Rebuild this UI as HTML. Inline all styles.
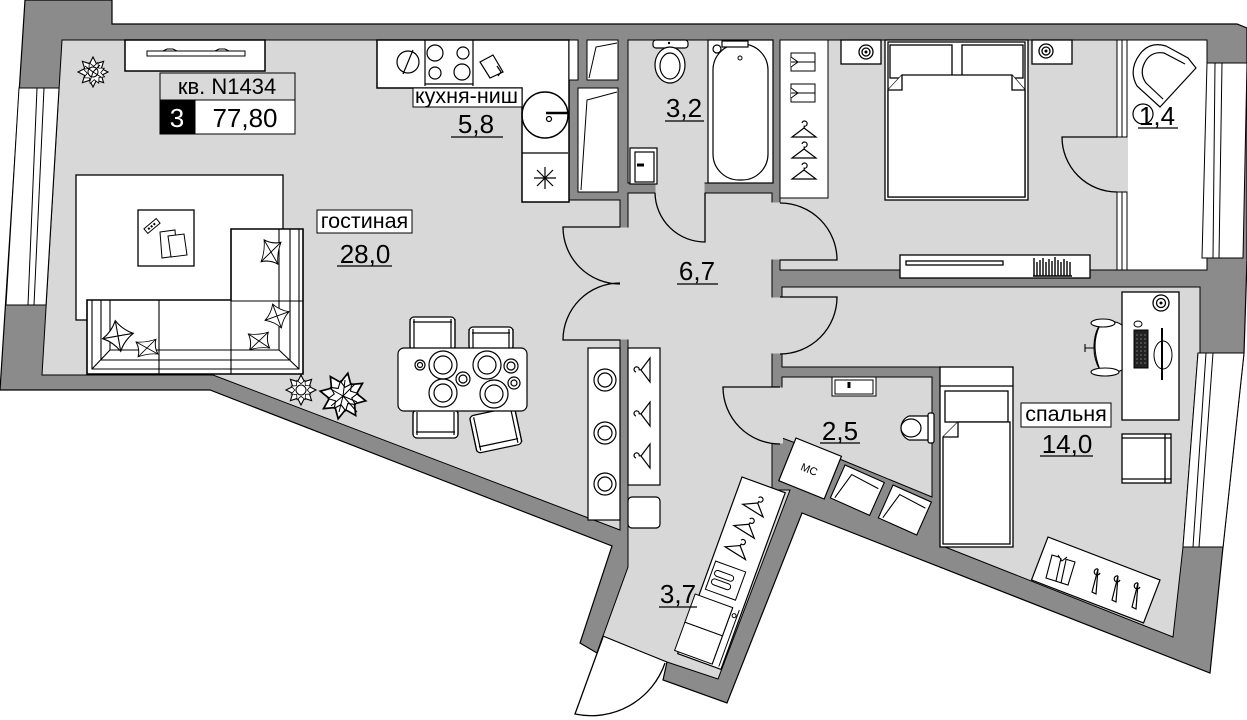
<!DOCTYPE html>
<html><head><meta charset="utf-8">
<style>
html,body{margin:0;padding:0;background:#fff;}
svg{display:block;}
text{font-family:"Liberation Sans","DejaVu Sans",sans-serif;}
</style></head><body>
<svg width="1247" height="720" viewBox="0 0 1247 720" xmlns="http://www.w3.org/2000/svg">
<defs>
  <g id="hg" fill="none" stroke="#000" stroke-width="1.2">
    <path d="M-2,-8 a2.6,2.6 0 1 1 2.2,3.2 v2"/>
    <path d="M0,-3 L-12,6 H12 Z"/>
  </g>
  <polygon id="pl" points="15,0 8.3,3.4 10.6,10.6 3.4,8.3 0,15 -3.4,8.3 -10.6,10.6 -8.3,3.4 -15,0 -8.3,-3.4 -10.6,-10.6 -3.4,-8.3 0,-15 3.4,-8.3 10.6,-10.6 8.3,-3.4" fill="#fff" stroke="#000" stroke-width="1.1"/>
  <g id="pil" fill="#fff" stroke="#000" stroke-width="1">
    <path d="M-10,-10 Q0,-7 10,-10 Q7,0 10,10 Q0,7 -10,10 Q-7,0 -10,-10 Z"/>
    <path d="M-10,-10 L10,10 M10,-10 L-10,10"/>
  </g>
</defs>

<!-- footprint walls -->
<polygon points="25,0 112,0 112,24 1237,24 1247,28 1247,260 1244,353 1223,547 1210,673 802,513 727,703 663,680 667,662 603,636 597,653 580,643 612,546 210,390 0,390" fill="#8b8b8b" stroke="#000" stroke-width="1.2"/>

<!-- floors -->
<g fill="#d8d8d8" stroke="#000" stroke-width="1">
  <polygon points="62,40 569,40 569,200 620,200 620,530 213,375 42,375"/>
  <polygon points="628,193 772,193 772,490 790,490 718,679 667,662 603,636 628,567"/>
  <rect x="628" y="40" width="145" height="143"/>
  <rect x="780" y="40" width="337" height="230"/>
  <polygon points="782,287 1200,287 1200,353 1198,353 1183,547 1173,637 940,545 940,367 782,367"/>
  <polygon points="782,377 932,377 932,497 842,460 782,438"/>
</g>
<rect x="1127" y="40" width="80" height="230" fill="#fff" stroke="#000"/>

<!-- door openings -->
<g fill="#d8d8d8">
  <rect x="619" y="227.5" width="10" height="112"/>
  <rect x="655.5" y="182" width="49" height="12"/>
  <rect x="771" y="202.5" width="11" height="57"/>
  <rect x="771" y="297.5" width="12" height="56"/>
  <rect x="771" y="387.5" width="12" height="56"/>
  <rect x="1116" y="137.5" width="12" height="54"/>
</g>

<!-- windows -->
<polygon points="19,88 59,88 46,305 6,305" fill="#fff" stroke="#000"/>
<polygon points="37,88 44,88 34,305 28,305" fill="#fff" stroke="#000"/>
<polygon points="1207,63 1247,63 1243,258 1202,258" fill="#fff" stroke="#000"/>
<polygon points="1215,63 1222,63 1219,258 1213,258" fill="#fff" stroke="#000"/>
<polygon points="1198,353 1244,353 1223,547 1183,547" fill="#fff" stroke="#000"/>
<polygon points="1206,353 1213,353 1199,547 1193,547" fill="#fff" stroke="#000"/>

<!-- partition 1,4 -->
<rect x="1117" y="40" width="10" height="97" fill="#fff" stroke="#000"/>
<rect x="1117" y="192" width="10" height="78" fill="#fff" stroke="#000"/>
<path d="M1122,40 V137 M1122,192 V270" stroke="#000"/>

<!-- doors -->
<g fill="none" stroke="#000" stroke-width="1.3">
  <path d="M620,227 H563 A57,57 0 0 0 620,284"/>
  <path d="M620,340 H563 A57,57 0 0 1 620,283"/>
  <path d="M705,193 V242 A50,50 0 0 1 655,193"/>
  <path d="M780,260 H837 A57,57 0 0 0 780,203"/>
  <path d="M780,297 H837 A57,57 0 0 1 780,354"/>
  <path d="M780,387 H723 A57,57 0 0 0 780,444"/>
  <path d="M1117,137 H1062 A55,55 0 0 0 1117,192"/>
  <path d="M603,637 L575,714 A78,78 0 0 0 665,663"/>
</g>

<!-- ===== living room ===== -->
<rect x="125" y="40" width="140" height="31" fill="#fff" stroke="#000" stroke-width="1.5"/>
<path d="M147,51 H245 V56 H147 Z" fill="#fff" stroke="#000"/>
<path d="M163,51 l4,-2 h6 l4,2 M215,51 l4,-2 h6 l4,2" fill="none" stroke="#000"/>

<rect x="160" y="73" width="135" height="27" fill="#d9d9d9" stroke="#000"/>
<rect x="160" y="100" width="35" height="34" fill="#000" stroke="#000"/>
<rect x="195" y="100" width="100" height="34" fill="#fff" stroke="#000"/>
<text x="227" y="94" font-size="22" text-anchor="middle">кв. N1434</text>
<text x="177" y="127" font-size="26" fill="#fff" text-anchor="middle">3</text>
<text x="245" y="127" font-size="26" text-anchor="middle">77,80</text>

<use href="#pl" transform="translate(93,72)"/>
<use href="#pl" transform="translate(94,73) rotate(20) scale(0.75)"/>
<circle cx="93" cy="72" r="5" fill="#fff" stroke="#000"/>
<path d="M93,72 l-8,-6 M93,72 l7,-7 M93,72 l8,5 M93,72 l-3,9" stroke="#000"/>

<rect x="76" y="175" width="207" height="145" fill="#fff" stroke="#000" stroke-width="1.3"/>
<rect x="138" y="210" width="56" height="56" fill="#fff" stroke="#000" stroke-width="1.3"/>
<g transform="translate(152,226) rotate(-40)"><rect x="-8" y="-3" width="16" height="6" fill="#fff" stroke="#000"/><path d="M-5,0 h10" stroke="#000" stroke-width="2" stroke-dasharray="2 1.5"/></g>
<polygon points="160,232 175,230 177,256 162,258" fill="#fff" stroke="#000"/>
<polygon points="168,236 184,234 187,255 171,257" fill="#fff" stroke="#000"/>

<!-- sofa -->
<path d="M87,300 H231 V229 H303 V374 H87 Z" fill="#fff" stroke="#000" stroke-width="1.6"/>
<g fill="none" stroke="#000" stroke-width="1.1">
  <path d="M92,300 V369 H299 V229"/>
  <path d="M110,300 V350 H279 V229"/>
  <path d="M101,300 V360 H290 V229"/>
  <path d="M92,369 L110,350 M299,369 L279,350"/>
  <path d="M159,300 V374 M231,300 V374 M231,301 H303 M87,300 H231"/>
</g>
<use href="#pil" transform="translate(118,336) rotate(35) scale(1.1)"/>
<use href="#pil" transform="translate(147,348) rotate(-8) scale(1,0.75)"/>
<use href="#pil" transform="translate(271,252) rotate(8) scale(0.85,1.1)"/>
<use href="#pil" transform="translate(277,316) rotate(25) scale(0.9)"/>
<use href="#pil" transform="translate(259,341) rotate(-5) scale(1,0.8)"/>

<!-- plants -->
<use href="#pl" transform="translate(301,390) scale(1)"/>
<use href="#pl" transform="translate(301,390) rotate(22) scale(0.7)"/>
<circle cx="301" cy="390" r="5" fill="#fff" stroke="#000"/>
<use href="#pl" transform="translate(343,396) rotate(12) scale(1.55)"/>
<use href="#pl" transform="translate(343,396) rotate(35) scale(1.0)"/>
<path d="M343,396 l-14,-8 M343,396 l12,-12 M343,396 l14,6 M343,396 l-4,16 M343,396 l-12,10 M343,396 l2,-16 M343,396 l14,16" stroke="#000"/>

<!-- dining -->
<g fill="#fff" stroke="#000" stroke-width="1.2">
  <rect x="410" y="317" width="45" height="33" rx="4"/>
  <rect x="469" y="327" width="44" height="23" rx="4"/>
  <rect x="413" y="410" width="45" height="28" rx="4"/>
  <g transform="translate(496,431) rotate(-12)"><rect x="-23" y="-20" width="46" height="38" rx="4"/><path d="M-23,-18 V16 M23,-18 V16 M-19,-18 V16 M19,-18 V16 M-20,12 H20"/></g>
  <path d="M410,319 V348 M414,319 V348 M451,319 V348 M455,319 V348 M413,322 H452"/>
  <path d="M469,329 V348 M473,329 V348 M509,329 V348 M513,329 V348 M472,333 H510"/>
  <path d="M413,412 V435 M417,412 V435 M454,412 V435 M458,412 V435 M416,432 H455"/>
  <rect x="398" y="348" width="129" height="63" rx="6"/>
</g>
<g fill="none" stroke="#000" stroke-width="1.2">
  <circle cx="420" cy="365" r="5"/><circle cx="420" cy="365" r="2.5"/>
  <circle cx="443" cy="365" r="14"/><circle cx="443" cy="365" r="9"/>
  <circle cx="487" cy="365" r="14"/><circle cx="487" cy="365" r="9"/>
  <circle cx="511" cy="366" r="7"/><circle cx="511" cy="366" r="4"/>
  <circle cx="463" cy="379" r="7"/><circle cx="463" cy="379" r="4"/>
  <circle cx="443" cy="393" r="14"/><circle cx="443" cy="393" r="9"/>
  <circle cx="494" cy="394" r="14"/><circle cx="494" cy="394" r="9"/>
  <circle cx="514" cy="383" r="6"/><circle cx="514" cy="383" r="3"/>
</g>

<!-- labels living -->
<rect x="317" y="210" width="95" height="23" fill="#fff" stroke="#000"/>
<text x="364.5" y="228" font-size="21.5" text-anchor="middle">гостиная</text>
<text x="365" y="263" font-size="26" text-anchor="middle">28,0</text>
<path d="M337,266 H392" stroke="#000" stroke-width="1.3"/>

<!-- ===== kitchen ===== -->
<path d="M377,40 H569 V202 H522 V88 H377 Z" fill="#fff" stroke="#000" stroke-width="1.5"/>
<rect x="569" y="40" width="9" height="40" fill="#fff" stroke="#000"/>
<g fill="none" stroke="#000" stroke-width="1.2">
  <path d="M425,40 V86 M473,40 V86 M425,84 H473 M522,153 H568"/>
  <circle cx="435" cy="53" r="8"/><circle cx="463" cy="53" r="6"/>
  <circle cx="435" cy="73" r="6"/><circle cx="462" cy="72" r="8"/>
  <circle cx="408" cy="62" r="11"/><path d="M403,74 L413,50"/>
  <polygon points="480,62 493,55 503,72 490,78"/>
  <path d="M497,66 l4,6 l-3,4"/>
  <circle cx="545" cy="115" r="23" stroke-width="1.5"/>
  <circle cx="549" cy="119" r="2.5"/>
  <path d="M546,113 H568" stroke-width="2.5"/>
  <path d="M545,167 V189 M534,178 H556 M537,170 L553,186 M553,170 L537,186"/>
</g>
<rect x="413" y="88" width="109" height="19" fill="#fff" stroke="#000"/>
<svg x="413" y="88" width="109" height="19" overflow="hidden"><text x="2" y="15" font-size="21.5">кухня-ниш</text></svg>
<text x="476" y="133" font-size="26" text-anchor="middle">5,8</text>
<path d="M451,137 H503" stroke="#000" stroke-width="1.3"/>

<!-- closets between kitchen and bath -->
<rect x="587" y="40" width="31" height="40" fill="#fff" stroke="#000"/>
<rect x="578" y="88" width="40" height="104" fill="#fff" stroke="#000"/>
<path d="M589,78 L596,47 L617,43 M581,190 L587,100 L617,92" fill="none" stroke="#000"/>

<!-- ===== bathroom 3,2 ===== -->
<g fill="#fff" stroke="#000" stroke-width="1.2">
  <rect x="653" y="40" width="35" height="8" rx="3"/>
  <ellipse cx="670" cy="65" rx="15" ry="18"/>
  <ellipse cx="670" cy="66" rx="10" ry="13"/>
  <rect x="630" y="148" width="27" height="36"/>
  <rect x="635" y="152" width="19" height="30"/>
  <rect x="708" y="40" width="65" height="143"/>
  <rect x="713" y="44" width="55" height="136" rx="26"/>
  <rect x="722" y="41" width="26" height="6"/>
  <circle cx="717" cy="49" r="4"/>
</g>
<circle cx="669" cy="43" r="1.2" fill="#000"/>
<circle cx="740" cy="58" r="2" fill="none" stroke="#000"/>
<path d="M637,165 h7" stroke="#000" stroke-width="3"/>
<text x="684" y="117" font-size="26" text-anchor="middle">3,2</text>
<path d="M665,121 H704" stroke="#000" stroke-width="1.3"/>

<!-- ===== master bedroom ===== -->
<rect x="780" y="40" width="48" height="158" fill="#fff" stroke="#000"/>
<g fill="#fff" stroke="#000">
  <rect x="791" y="53" width="24" height="18"/><path d="M791,57 l7,5 l-7,5 M791,62 h24"/>
  <rect x="791" y="84" width="24" height="18"/><path d="M791,88 l7,5 l-7,5 M791,93 h24"/>
</g>
<use href="#hg" transform="translate(804,131)"/>
<use href="#hg" transform="translate(804,152)"/>
<use href="#hg" transform="translate(804,173)"/>

<g fill="#fff" stroke="#000" stroke-width="1.3">
  <rect x="885" y="40" width="143" height="160"/>
  <rect x="888" y="42" width="137" height="155"/>
  <rect x="890" y="45" width="62" height="33"/>
  <rect x="962" y="45" width="61" height="33"/>
  <path d="M888,90 L902,75 H1012 L1025,90 V197 H888 Z"/>
  <path d="M888,90 H902 V75 M1025,90 H1012 V75"/>
  <rect x="841" y="40" width="40" height="24"/>
  <rect x="1032" y="40" width="40" height="24"/>
  <circle cx="866" cy="52" r="7"/><circle cx="866" cy="52" r="4"/>
  <circle cx="1046" cy="51" r="7"/><circle cx="1046" cy="51" r="4"/>
  <rect x="900" y="255" width="190" height="23"/>
  <rect x="906" y="261" width="97" height="4"/>
</g>
<circle cx="866" cy="52" r="1.5"/><circle cx="1046" cy="51" r="1.5"/>
<path d="M1034,258 V276 M1037,262 V276 M1040,260 V276 M1043,258 V276 M1046,262 V276 M1049,259 V276 M1052,261 V276 M1055,257 V276 M1058,260 V276 M1061,262 V276 M1064,259 V276 M1067,261 V276 M1070,262 V276 M1033,276 H1072" stroke="#000" stroke-width="1.4"/>

<!-- room 1,4 armchair -->
<g fill="#fff" stroke="#000" stroke-width="1.2">
  <path d="M1196,68 L1188,58 L1166,46 Q1150,41 1140,54 Q1128,70 1137,86 L1160,107 Z"/>
  <path d="M1185,64 L1164,53 Q1151,51 1145,62 Q1139,73 1146,83 L1163,99"/>
  <circle cx="1143" cy="114" r="10" fill="none"/>
</g>
<text x="1157" y="125" font-size="26" text-anchor="middle">1,4</text>
<path d="M1138,128 H1178" stroke="#000" stroke-width="1.3"/>

<!-- ===== hallway ===== -->
<rect x="588" y="348" width="32" height="172" fill="#fff" stroke="#000" stroke-width="1.2"/>
<g fill="none" stroke="#000" stroke-width="1.2">
  <circle cx="605" cy="380" r="11"/><circle cx="605" cy="380" r="7"/>
  <circle cx="605" cy="433" r="11"/><circle cx="605" cy="433" r="7"/>
  <circle cx="605" cy="484" r="11"/><circle cx="605" cy="484" r="7"/>
</g>
<rect x="628" y="348" width="32" height="137" fill="#fff" stroke="#000" stroke-width="1.2"/>
<use href="#hg" transform="translate(644,370) rotate(-90)"/>
<use href="#hg" transform="translate(644,414) rotate(-90)"/>
<use href="#hg" transform="translate(644,456) rotate(-90)"/>
<rect x="628" y="497" width="32" height="31" rx="4" fill="#fff" stroke="#000" stroke-width="1.2"/>
<text x="697" y="280" font-size="26" text-anchor="middle">6,7</text>
<path d="M677,284 H718" stroke="#000" stroke-width="1.3"/>

<!-- corridor closet -->
<g transform="translate(742,477) rotate(20)">
  <rect x="0" y="0" width="46" height="188" fill="#fff" stroke="#000" stroke-width="1.2"/>
  <use href="#hg" transform="translate(23,22) rotate(12)"/>
  <use href="#hg" transform="translate(22,45) rotate(12)"/>
  <use href="#hg" transform="translate(21,68) rotate(12)"/>
  <rect x="4" y="88" width="32" height="30" fill="#fff" stroke="#000"/>
  <path d="M10,96 h14 a3,3 0 0 1 0,6 h-14 a3,3 0 0 1 0,-6 M10,105 h14 a3,3 0 0 1 0,6 h-14 a3,3 0 0 1 0,-6" fill="none" stroke="#000"/>
  <rect x="-4" y="126" width="40" height="30" fill="#fff" stroke="#000"/>
  <rect x="-4" y="156" width="40" height="30" fill="#fff" stroke="#000"/>
  <path d="M36,126 V186 M43,126 V186" stroke="#000"/>
  <circle cx="40" cy="133" r="2" fill="none" stroke="#000"/>
</g>
<text x="678" y="603" font-size="26" text-anchor="middle">3,7</text>
<path d="M659,607 H697" stroke="#000" stroke-width="1.3"/>

<!-- ===== bathroom 2,5 ===== -->
<rect x="832" y="377" width="44" height="19" fill="#fff" stroke="#000"/>
<rect x="835" y="380" width="38" height="14" fill="#fff" stroke="#000"/>
<path d="M849,382 v6" stroke="#000" stroke-width="3"/>
<g fill="#fff" stroke="#000" stroke-width="1.2">
  <rect x="928" y="413" width="6" height="30" rx="2"/>
  <path d="M928,416 H909 A13,13 0 0 0 909,440 H928 Z"/>
  <ellipse cx="911" cy="428" rx="10" ry="9"/>
</g>
<text x="840" y="440" font-size="26" text-anchor="middle">2,5</text>
<path d="M820,443 H860" stroke="#000" stroke-width="1.3"/>

<g transform="translate(796,438) rotate(22)">
  <rect x="0" y="0" width="49" height="46" fill="#fff" stroke="#000" stroke-width="1.2"/>
  <text x="24" y="28" font-size="11" text-anchor="middle">МС</text>
</g>
<g transform="translate(845,465) rotate(24)" fill="#fff" stroke="#000" stroke-width="1.1">
  <rect x="0" y="0" width="43" height="36"/>
  <path d="M4,34 L10,6 L40,8" fill="none"/>
</g>
<g transform="translate(893,485) rotate(24)" fill="#fff" stroke="#000" stroke-width="1.1">
  <rect x="0" y="0" width="42" height="36"/>
  <path d="M4,34 L10,6 L39,8" fill="none"/>
</g>

<!-- ===== bedroom спальня ===== -->
<g fill="#fff" stroke="#000" stroke-width="1.3">
  <rect x="940" y="367" width="73" height="180"/>
  <path d="M940,386 H1013"/>
  <rect x="945" y="391" width="63" height="31"/>
  <path d="M943,437 L958,422 H1010 V544 H943 Z"/>
  <path d="M943,437 H958 V422"/>
  <rect x="1122" y="292" width="57" height="128"/>
  <rect x="1122" y="434" width="49" height="49"/>
  <path d="M1165,434 V483 M1122,438 H1171 M1122,479 H1171"/>
  <circle cx="1161" cy="303" r="8"/><circle cx="1161" cy="303" r="4.5"/>
</g>
<circle cx="1161" cy="303" r="1.5"/>
<rect x="1134" y="330" width="14" height="38" fill="#222" stroke="#000"/>
<path d="M1137,334 v30 M1141,334 v30 M1145,334 v30" stroke="#888" stroke-width="0.8" stroke-dasharray="2 2"/>
<ellipse cx="1138" cy="324" rx="4" ry="3" fill="#fff" stroke="#000"/>
<ellipse cx="1163" cy="355" rx="9" ry="14" fill="#fff" stroke="#000"/>
<path d="M1162,328 V380" stroke="#000" stroke-width="2"/>
<g fill="#fff" stroke="#000" stroke-width="1.1">
  <path d="M1100,325 Q1112,318 1122,325 V370 Q1110,376 1100,370 Q1094,360 1094,348 Q1094,333 1100,325 Z"/>
  <path d="M1100,325 Q1090,345 1100,370"/>
  <path d="M1094,348 H1085 M1085,344 v8"/>
  <ellipse cx="1103" cy="323" rx="12" ry="4"/>
  <ellipse cx="1105" cy="372" rx="14" ry="4"/>
</g>

<g transform="translate(1048,537) rotate(21)">
  <rect x="0" y="0" width="120" height="46" fill="#fff" stroke="#000" stroke-width="1.2"/>
</g>
<g fill="#fff" stroke="#000" stroke-width="1.1">
  <polygon points="1052,555 1075,562 1068,585 1046,578"/>
  <path d="M1061,558 L1056,581 M1066,560 L1061,583 M1058,555 l4,6 l5,-4"/>
</g>
<g fill="none" stroke="#000" stroke-width="1.2">
  <path d="M1100,573 a3,3 0 1 1 -2,-4 M1098,569 L1092,592 L1096,594 Z"/>
  <path d="M1120,580 a3,3 0 1 1 -2,-4 M1118,576 L1112,600 L1116,602 Z"/>
  <path d="M1140,587 a3,3 0 1 1 -2,-4 M1138,583 L1132,607 L1136,609 Z"/>
</g>

<rect x="1021" y="403" width="90" height="24" fill="#fff" stroke="#000"/>
<text x="1066" y="421" font-size="21.5" text-anchor="middle">спальня</text>
<text x="1067" y="453" font-size="26" text-anchor="middle">14,0</text>
<path d="M1040,456 H1093" stroke="#000" stroke-width="1.3"/>
</svg>
</body></html>
